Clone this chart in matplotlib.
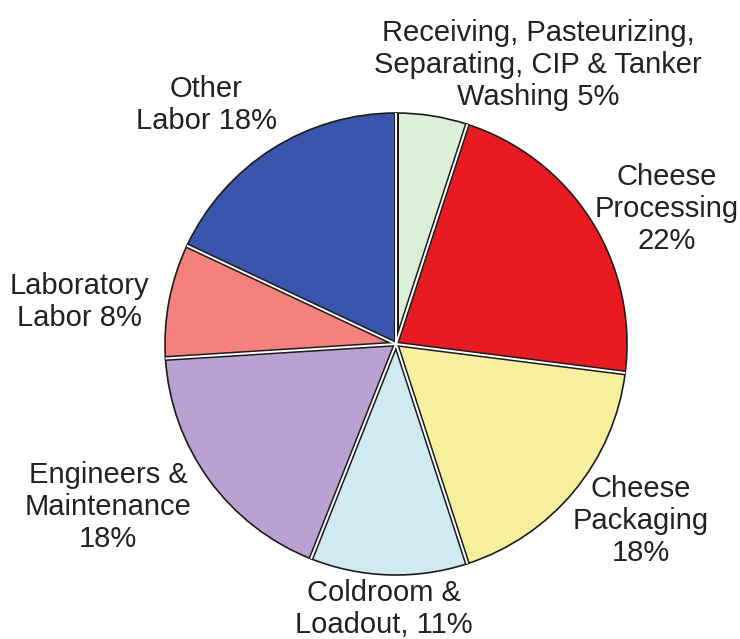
import numpy as np
import matplotlib
matplotlib.use("Agg")
import matplotlib.pyplot as plt

plt.rcParams['font.family'] = ['Liberation Sans', 'DejaVu Sans']

# data (clockwise from 12 o'clock)
labels = ["Receiving, Pasteurizing,\nSeparating, CIP & Tanker\nWashing 5%",
          "Cheese\nProcessing\n22%",
          "Cheese\nPackaging\n18%",
          "Coldroom &\nLoadout, 11%",
          "Engineers &\nMaintenance\n18%",
          "Laboratory\nLabor 8%",
          "Other\nLabor 18%"]
shares = [5, 22, 18, 11, 18, 8, 18]
colors = ['#dcefd9', '#e91b22', '#f6ef9e', '#d0eaf2', '#bba1d2', '#f4817b', '#3a55ae']

# label placement (pixel coords, y from top)
label_xy = [(538, 65), (667, 209), (641, 521), (384, 609),
            (108, 507), (79, 302), (206, 105)]

W, H = 740, 639
cx, cy, r = 396, H - 344, 231

fig = plt.figure(figsize=(7.4, 6.39), dpi=100)
ax = fig.add_axes([0, 0, 1, 1])

ax.pie(shares, colors=colors, startangle=90, counterclock=False,
       center=(cx, cy), radius=r, frame=True,
       wedgeprops=dict(edgecolor='#1c1c1c', linewidth=1.2))

# double-line separators between slices
bounds = 90 - 360 * np.cumsum([0] + shares[:-1]) / sum(shares)
for a in np.deg2rad(bounds):
    xs = [cx, cx + r * np.cos(a)]
    ys = [cy, cy + r * np.sin(a)]
    ax.plot(xs, ys, color='#1c1c1c', lw=3.6, solid_capstyle='butt', zorder=3)
    ax.plot(xs, ys, color='white', lw=1.4, solid_capstyle='butt', zorder=4)

for lab, (x, y) in zip(labels, label_xy):
    ax.text(x, H - y, lab, ha='center', va='center', fontsize=21,
            color='#222222', linespacing=1.2)

ax.set_xlim(0, W)
ax.set_ylim(0, H)
ax.set_aspect('equal')
ax.axis('off')

fig.savefig('out.png', dpi=100, facecolor='white')
